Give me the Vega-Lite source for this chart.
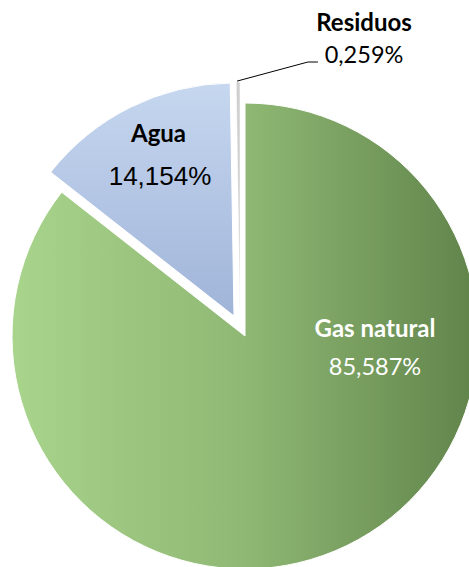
{
  "$schema": "https://vega.github.io/schema/vega-lite/v6.json",
  "width": 469,
  "height": 567,
  "autosize": "none",
  "padding": 0,
  "background": "white",
  "config": {"view": {"stroke": null}},
  "datasets": {
    "shares": [
      {"idx": 1, "fuente": "Gas natural", "pct": 85.587, "etiqueta": "85,587%"},
      {"idx": 2, "fuente": "Agua", "pct": 14.154, "etiqueta": "14,154%"},
      {"idx": 3, "fuente": "Residuos", "pct": 0.259, "etiqueta": "0,259%"}
    ],
    "leader": [
      {"p": 1, "u": -0.034, "v": -1.094},
      {"p": 2, "u": 0.270, "v": -1.176},
      {"p": 3, "u": 0.313, "v": -1.176}
    ]
  },
  "layer": [
    {
      "data": {"name": "shares"},
      "transform": [
        {"stack": "pct", "groupby": [], "sort": [{"field": "idx", "order": "ascending"}], "as": ["start", "end"]},
        {"filter": "datum.fuente === 'Gas natural'"}
      ],
      "mark": {
        "type": "arc", "outerRadius": 233, "xOffset": 10.5, "yOffset": 52.5,
        "stroke": "white", "strokeWidth": 1,
        "fill": {"gradient": "linear", "x1": 0, "y1": 0, "x2": 1, "y2": 0,
          "stops": [{"offset": 0, "color": "#a9d48c"}, {"offset": 0.5, "color": "#8fb874"}, {"offset": 1, "color": "#60834a"}]}
      },
      "encoding": {
        "theta": {"field": "start", "type": "quantitative", "scale": {"domain": [0, 100], "nice": false}},
        "theta2": {"field": "end"}
      }
    },
    {
      "data": {"name": "shares"},
      "transform": [
        {"stack": "pct", "groupby": [], "sort": [{"field": "idx", "order": "ascending"}], "as": ["start", "end"]},
        {"filter": "datum.fuente === 'Agua'"}
      ],
      "mark": {
        "type": "arc", "outerRadius": 233, "xOffset": -0.5, "yOffset": 32.5,
        "stroke": "white", "strokeWidth": 1,
        "fill": {"gradient": "linear", "x1": 0, "y1": 0, "x2": 0, "y2": 1,
          "stops": [{"offset": 0, "color": "#c6d7ef"}, {"offset": 1, "color": "#a0b4d9"}]}
      },
      "encoding": {
        "theta": {"field": "start", "type": "quantitative", "scale": {"domain": [0, 100], "nice": false}},
        "theta2": {"field": "end"}
      }
    },
    {
      "data": {"name": "shares"},
      "transform": [
        {"stack": "pct", "groupby": [], "sort": [{"field": "idx", "order": "ascending"}], "as": ["start", "end"]},
        {"filter": "datum.fuente === 'Residuos'"}
      ],
      "mark": {
        "type": "arc", "outerRadius": 233, "xOffset": 5.5, "yOffset": 31.5,
        "stroke": "white", "strokeWidth": 0.5, "fill": "#cfcfcf"
      },
      "encoding": {
        "theta": {"field": "start", "type": "quantitative", "scale": {"domain": [0, 100], "nice": false}},
        "theta2": {"field": "end"}
      }
    },
    {
      "data": {"name": "leader"},
      "mark": {"type": "line", "stroke": "black", "strokeWidth": 1},
      "encoding": {
        "x": {"field": "u", "type": "quantitative", "axis": null, "scale": {"domain": [-1.0515, 0.9614], "nice": false, "zero": false}},
        "y": {"field": "v", "type": "quantitative", "axis": null, "scale": {"domain": [-1.4421, 0.9914], "nice": false, "zero": false, "reverse": true}},
        "order": {"field": "p"}
      }
    },
    {
      "data": {"name": "shares"},
      "transform": [{"filter": "datum.fuente === 'Gas natural'"}],
      "layer": [
        {"mark": {"type": "text", "font": "Lato", "fontWeight": "bold", "fontSize": 24, "color": "white", "align": "center", "baseline": "alphabetic", "xOffset": 140.5, "yOffset": 53},
         "encoding": {"text": {"field": "fuente"}}},
        {"mark": {"type": "text", "font": "Lato", "fontSize": 23.5, "color": "white", "align": "center", "baseline": "alphabetic", "xOffset": 140.5, "yOffset": 91.5},
         "encoding": {"text": {"field": "etiqueta"}}}
      ]
    },
    {
      "data": {"name": "shares"},
      "transform": [{"filter": "datum.fuente === 'Agua'"}],
      "layer": [
        {"mark": {"type": "text", "font": "Lato", "fontWeight": "bold", "fontSize": 24, "color": "black", "align": "center", "baseline": "alphabetic", "xOffset": -76, "yOffset": -142},
         "encoding": {"text": {"field": "fuente"}}},
        {"mark": {"type": "text", "font": "Liberation Sans", "fontSize": 26, "letterSpacing": 0.6, "color": "black", "align": "center", "baseline": "alphabetic", "xOffset": -74.5, "yOffset": -98.5},
         "encoding": {"text": {"field": "etiqueta"}}}
      ]
    },
    {
      "data": {"name": "shares"},
      "transform": [{"filter": "datum.fuente === 'Residuos'"}],
      "layer": [
        {"mark": {"type": "text", "font": "Lato", "fontWeight": "bold", "fontSize": 24, "color": "black", "align": "center", "baseline": "alphabetic", "xOffset": 129.5, "yOffset": -253},
         "encoding": {"text": {"field": "fuente"}}},
        {"mark": {"type": "text", "font": "Lato", "fontSize": 23.5, "color": "black", "align": "center", "baseline": "alphabetic", "xOffset": 129.5, "yOffset": -220.5},
         "encoding": {"text": {"field": "etiqueta"}}}
      ]
    }
  ]
}
